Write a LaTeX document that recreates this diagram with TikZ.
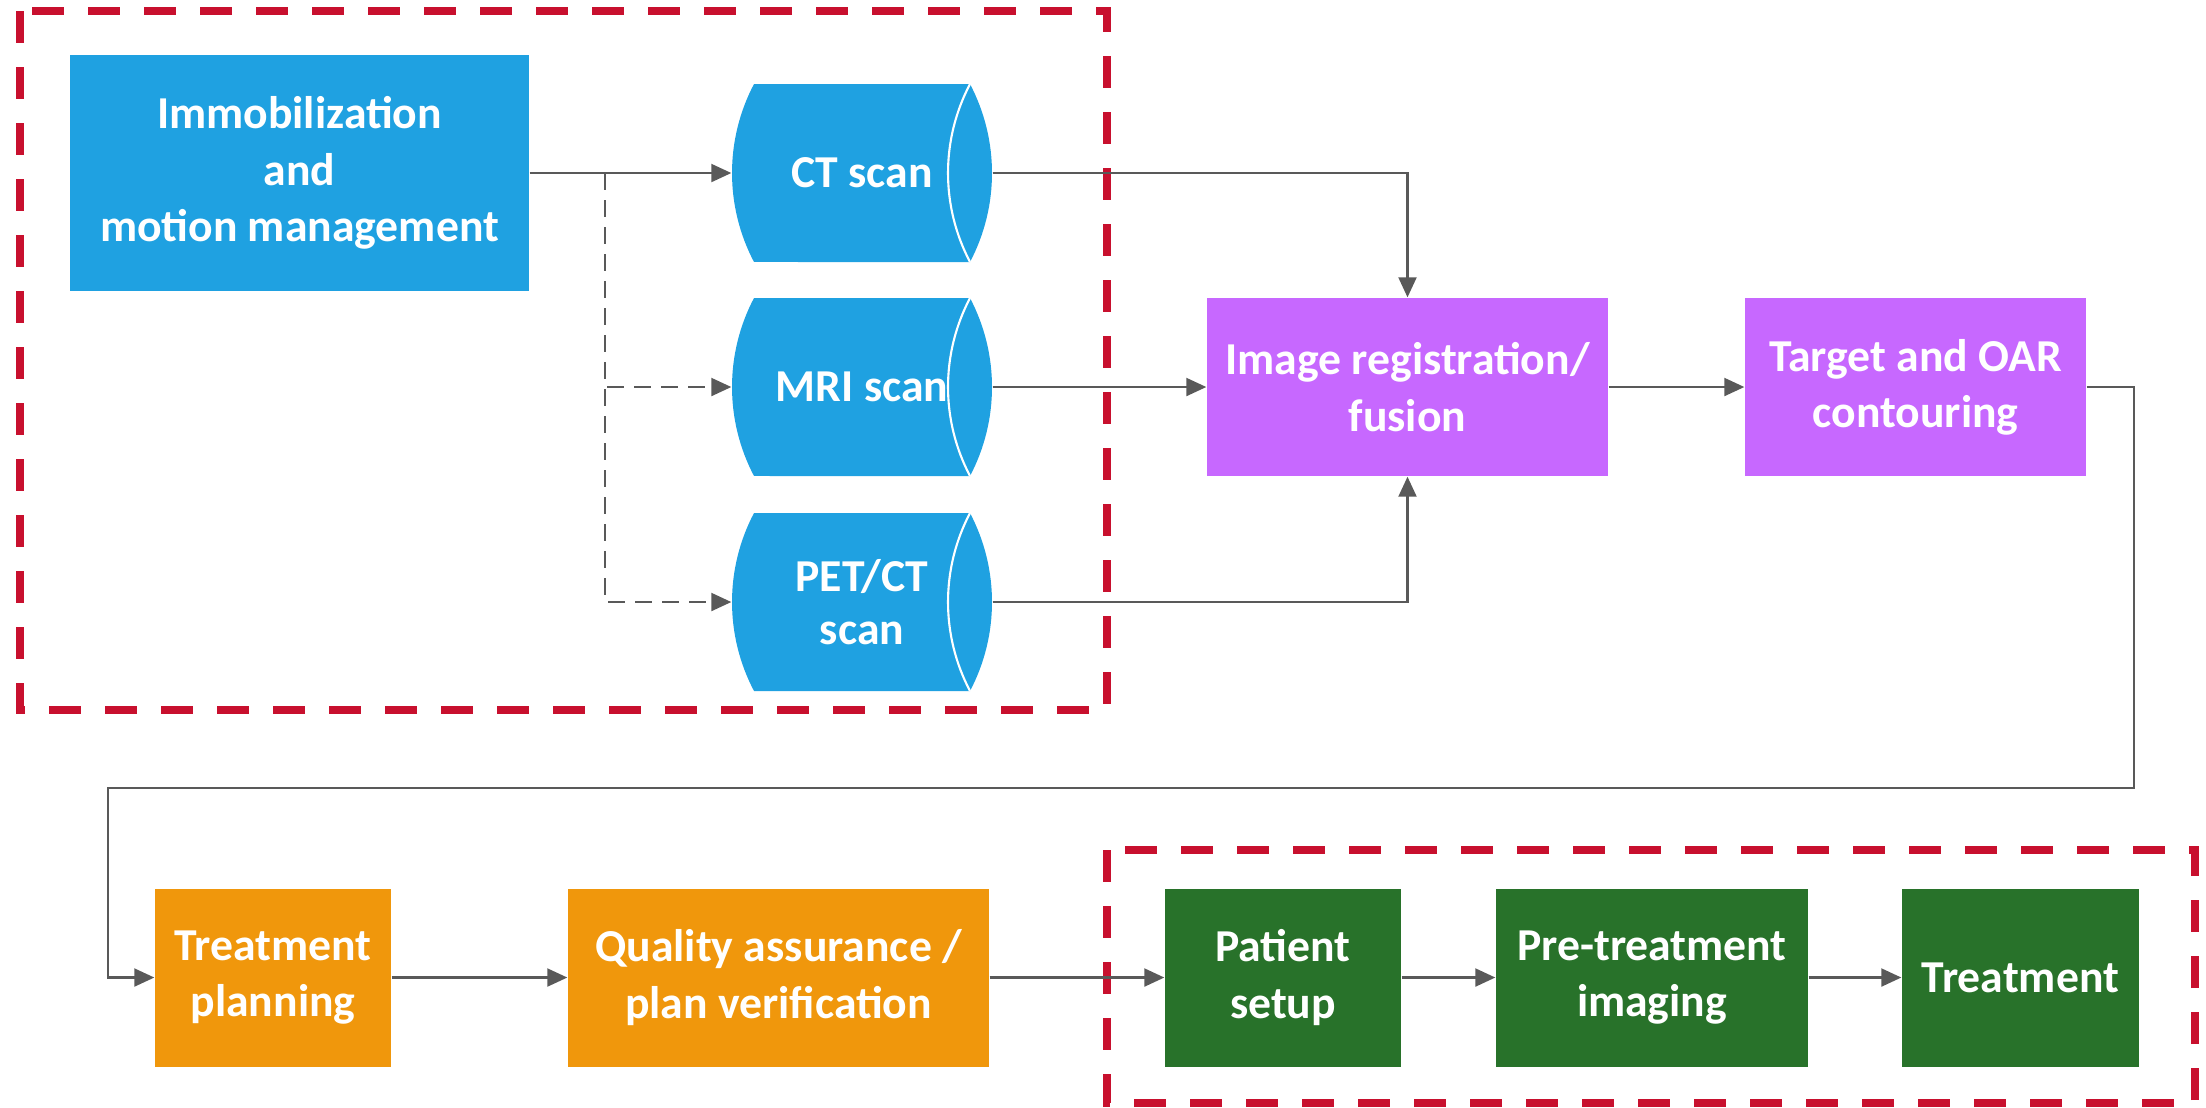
\documentclass[tikz,border=0pt]{standalone}
\usepackage{fontspec}
\setmainfont{Carlito}
\usetikzlibrary{arrows.meta}
\definecolor{scanblue}{RGB}{31,161,225}
\definecolor{fusionviolet}{RGB}{199,104,255}
\definecolor{planorange}{RGB}{240,151,12}
\definecolor{deliverygreen}{RGB}{40,114,42}
\definecolor{groupred}{RGB}{200,16,46}
\definecolor{linkgray}{RGB}{89,89,89}

\begin{document}
\begin{tikzpicture}[
    stepbox/.style={rectangle, fill=#1, text=white, align=center,
        font=\bfseries\fontsize{13}{16}\selectfont, inner sep=2pt,
        minimum height=1.78cm},
    scan/.style={rectangle, text=white, align=center,
        font=\bfseries\fontsize{13}{15}\selectfont,
        minimum width=2.6cm, minimum height=1.78cm, inner sep=1pt,
        path picture={
            \fill[scanblue] ([xshift=0.22cm]path picture bounding box.north west)
                arc[start angle=152.23, end angle=207.77, radius=1.91cm]
                -- ([xshift=-0.22cm]path picture bounding box.south east)
                arc[start angle=-27.77, end angle=27.77, radius=1.91cm]
                -- cycle;
            \draw[white, line width=0.6pt]
                ([xshift=-0.22cm]path picture bounding box.north east)
                arc[start angle=152.23, end angle=207.77, radius=1.91cm];
        }},
    link/.style={draw=linkgray, line width=0.6pt,
        -{Triangle[length=0.2cm, width=0.18cm]}},
    optlink/.style={link, dash pattern=on 0.17cm off 0.1cm},
    groupbox/.style={draw=groupred, line width=0.08cm,
        dash pattern=on 0.32cm off 0.24cm}
]
    \useasboundingbox (0,0) rectangle (22.06,-11.07);

    % Dashed groups
    \draw[groupbox] (0.20,-0.11) rectangle (11.07,-7.10);
    \draw[groupbox] (11.07,-8.50) rectangle (21.95,-11.03);

    % Simulation
    \node[stepbox=scanblue, minimum width=4.59cm, minimum height=2.36cm]
        (immob) at (2.995,-1.73) {Immobilization\\and\\motion management};
    \node[scan] (ct) at (8.62,-1.73) {CT scan};
    \node[scan] (mri) at (8.62,-3.87) {MRI scan};
    \node[scan] (pet) at (8.62,-6.02) {PET/CT\\scan};

    % Registration and contouring
    \node[stepbox=fusionviolet, minimum width=4.01cm]
        (fusion) at (14.075,-3.87) {Image registration/\\fusion};
    \node[stepbox=fusionviolet, minimum width=3.41cm]
        (contour) at (19.155,-3.87) {Target and OAR\\contouring};

    % Planning
    \node[stepbox=planorange, minimum width=2.36cm]
        (plan) at (2.73,-9.775) {Treatment\\planning};
    \node[stepbox=planorange, minimum width=4.21cm]
        (qa) at (7.785,-9.775) {Quality assurance /\\plan verification};

    % Delivery
    \node[stepbox=deliverygreen, minimum width=2.36cm]
        (setup) at (12.83,-9.775) {Patient\\setup};
    \node[stepbox=deliverygreen, minimum width=3.12cm]
        (igrt) at (16.52,-9.775) {Pre-treatment\\imaging};
    \node[stepbox=deliverygreen, minimum width=2.37cm]
        (treat) at (20.205,-9.775) {Treatment};

    % Connectors
    \coordinate (split) at (6.05,-1.73);
    \coordinate (turn) at (1.08,-7.88);
    \draw[link] (immob.east) -- (ct.west);
    \draw[optlink] (split) |- (mri.west);
    \draw[optlink] (split) |- (pet.west);
    \draw[link] (ct.east) -| (fusion.north);
    \draw[link] (mri.east) -- (fusion.west);
    \draw[link] (pet.east) -| (fusion.south);
    \draw[link] (fusion.east) -- (contour.west);
    \draw[link] (contour.east) -- ++(0.47,0) |- (turn) |- (plan.west);
    \draw[link] (plan.east) -- (qa.west);
    \draw[link] (qa.east) -- (setup.west);
    \draw[link] (setup.east) -- (igrt.west);
    \draw[link] (igrt.east) -- (treat.west);
\end{tikzpicture}
\end{document}
